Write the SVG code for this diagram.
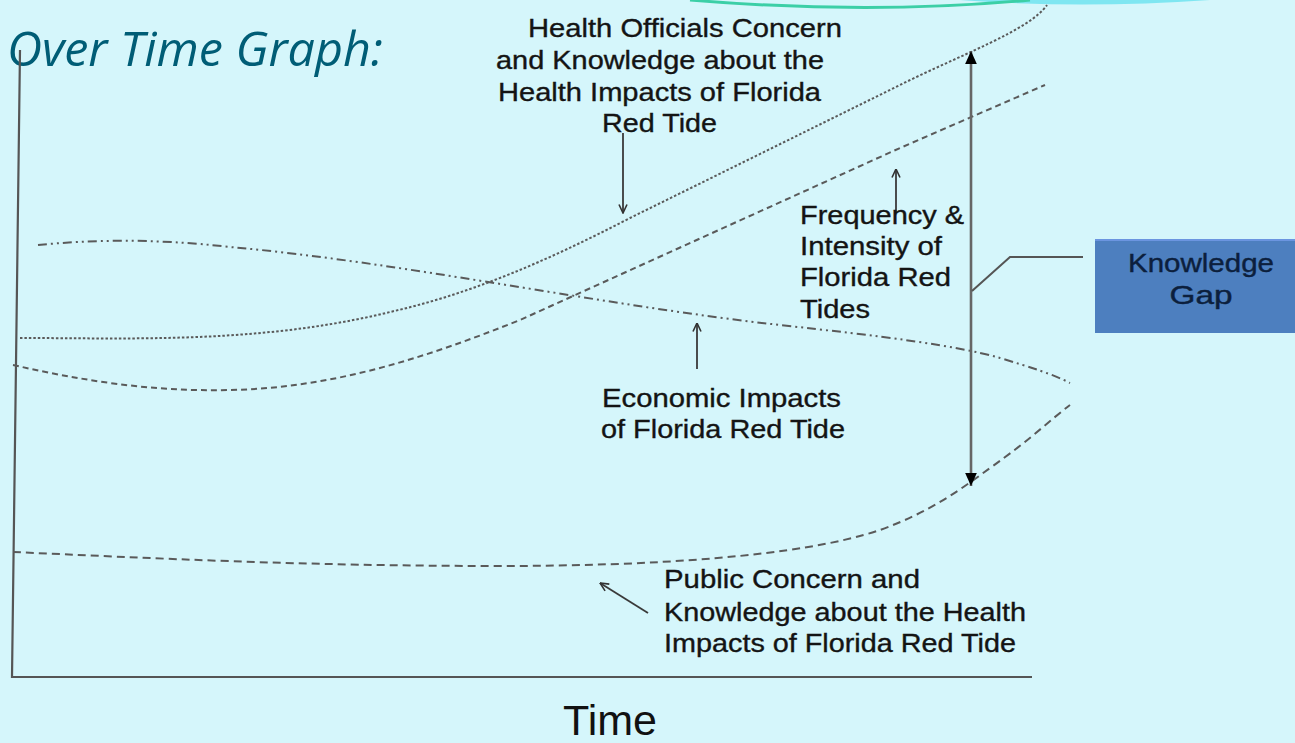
<svg xmlns="http://www.w3.org/2000/svg" width="1295" height="743" viewBox="0 0 1295 743">
<style>
.lbl{font-family:"Liberation Sans",Arial,sans-serif;font-size:25.5px;fill:#141414;stroke:#141414;stroke-width:0.35}
.curve{fill:none;stroke:#5a5a5a;stroke-width:2}
.ptr{fill:none;stroke:#3a3a3a;stroke-width:1.8}
</style>
<defs>
<marker id="open" viewBox="0 0 10 10" refX="9.5" refY="5" markerWidth="10" markerHeight="10" markerUnits="userSpaceOnUse" orient="auto">
<path d="M1,1 L9.5,5 L1,9" fill="none" stroke="#333" stroke-width="1.6"/>
</marker>
<marker id="solid" viewBox="0 0 10 10" refX="10" refY="5" markerWidth="13" markerHeight="13" markerUnits="userSpaceOnUse" orient="auto-start-reverse">
<path d="M0,0.5 L10,5 L0,9.5 Z" fill="#000"/>
</marker>
</defs>
<rect width="1295" height="743" fill="#d5f6fb"/>
<g id="top-shape">
<path d="M960,0 Q1080,9 1210,0 Z" fill="#7fe6f1"/>
<path d="M690,0 Q870,15 1030,0" fill="none" stroke="#3ccfa6" stroke-width="3"/>
</g>
<g id="title">
<text x="7" y="66" font-family="'Open Sans','Noto Sans',sans-serif" font-style="italic" font-size="48" fill="#005d76" textLength="376" lengthAdjust="spacingAndGlyphs">Over Time Graph:</text>
</g>
<g id="axes" fill="none" stroke="#555" stroke-width="2.2">
<path d="M20,50 L12,677 L1032,677"/>
</g>
<g id="x-label">
<text x="610" y="735" text-anchor="middle" font-family="'Liberation Sans',Arial,sans-serif" font-size="42" fill="#111" textLength="94" lengthAdjust="spacingAndGlyphs">Time</text>
</g>
<g id="curves">
<path id="health-officials-curve" class="curve" stroke="#8a8a8a" stroke-width="1.6" stroke-dasharray="2.5,2" d="M20,338 C130,338 260,344 390,312 C470,294 545,262 630,218 L900,85 C960,55 1030,30 1047,5"/>
<path id="frequency-curve" class="curve" stroke-dasharray="6,4" d="M13,365 C80,380 150,392 230,390 C330,388 420,360 520,320 L900,148 L1045,85"/>
<path id="economic-curve" class="curve" stroke-width="2.4" stroke-dasharray="9,4,2,4,2,4" d="M38,245 C90,240 150,238 230,247 C400,262 600,305 780,325 C880,336 955,345 1000,358 C1030,367 1055,375 1070,383"/>
<path id="public-curve" class="curve" stroke-dasharray="8,5" d="M13,552 C150,558 300,566 500,566 C650,566 800,557 880,530 C930,512 960,490 990,468 C1030,440 1050,420 1070,405"/>
</g>
<g id="connectors">
<line class="ptr" x1="623" y1="133" x2="623" y2="213" marker-end="url(#open)"/>
<line class="ptr" x1="896" y1="212" x2="896" y2="169" marker-end="url(#open)"/>
<line class="ptr" x1="697" y1="369" x2="697" y2="323" marker-end="url(#open)"/>
<line class="ptr" x1="648" y1="613" x2="600" y2="583" marker-end="url(#open)"/>
<line x1="971" y1="51" x2="971" y2="486" stroke="#666" stroke-width="2.6" marker-start="url(#solid)" marker-end="url(#solid)"/>
<path d="M972,291 L1010,257 L1083,257" fill="none" stroke="#555" stroke-width="2"/>
</g>
<g id="health-officials-label">
<text class="lbl" x="528" y="37" textLength="314" lengthAdjust="spacingAndGlyphs">Health Officials Concern</text>
<text class="lbl" x="496" y="69" textLength="328" lengthAdjust="spacingAndGlyphs">and Knowledge about the</text>
<text class="lbl" x="498" y="101" textLength="323" lengthAdjust="spacingAndGlyphs">Health Impacts of Florida</text>
<text class="lbl" x="602" y="132" textLength="115" lengthAdjust="spacingAndGlyphs">Red Tide</text>
</g>
<g id="frequency-label">
<text class="lbl" x="800" y="224" textLength="164" lengthAdjust="spacingAndGlyphs">Frequency &amp;</text>
<text class="lbl" x="800" y="255" textLength="142" lengthAdjust="spacingAndGlyphs">Intensity of</text>
<text class="lbl" x="800" y="286" textLength="151" lengthAdjust="spacingAndGlyphs">Florida Red</text>
<text class="lbl" x="800" y="318" textLength="70" lengthAdjust="spacingAndGlyphs">Tides</text>
</g>
<g id="economic-label">
<text class="lbl" x="602" y="407" textLength="239" lengthAdjust="spacingAndGlyphs">Economic Impacts</text>
<text class="lbl" x="601" y="438" textLength="244" lengthAdjust="spacingAndGlyphs">of Florida Red Tide</text>
</g>
<g id="public-label">
<text class="lbl" x="664" y="588" textLength="256" lengthAdjust="spacingAndGlyphs">Public Concern and</text>
<text class="lbl" x="664" y="621" textLength="362" lengthAdjust="spacingAndGlyphs">Knowledge about the Health</text>
<text class="lbl" x="664" y="652" textLength="352" lengthAdjust="spacingAndGlyphs">Impacts of Florida Red Tide</text>
</g>
<g id="knowledge-gap">
<rect x="1095" y="239" width="205" height="94" fill="#4d7fbf"/>
<line x1="1095" y1="240" x2="1295" y2="240" stroke="#6b95e0" stroke-width="2"/>
<text x="1201" y="272" text-anchor="middle" font-family="'Liberation Sans',Arial,sans-serif" font-size="26" fill="#0c1f3d" stroke="#0c1f3d" stroke-width="0.4" textLength="146" lengthAdjust="spacingAndGlyphs">Knowledge</text>
<text x="1201" y="304" text-anchor="middle" font-family="'Liberation Sans',Arial,sans-serif" font-size="26" fill="#0c1f3d" stroke="#0c1f3d" stroke-width="0.4" textLength="63" lengthAdjust="spacingAndGlyphs">Gap</text>
</g>
</svg>
